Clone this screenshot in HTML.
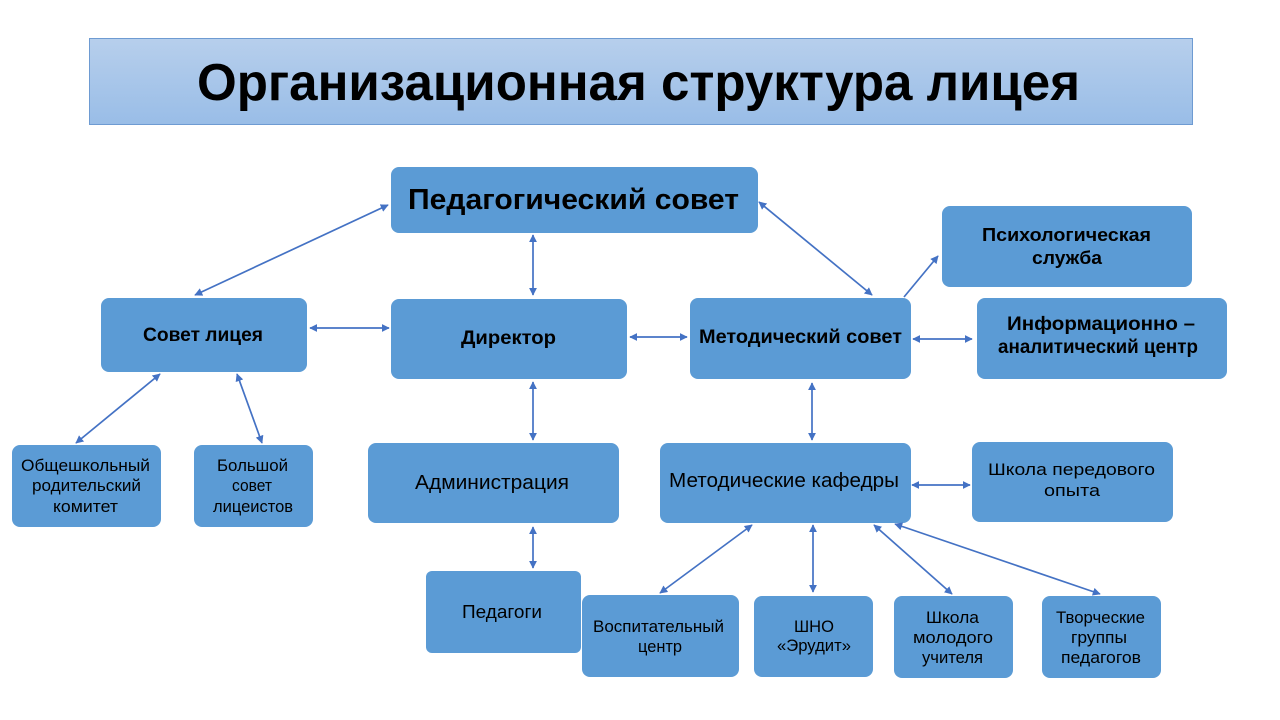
<!DOCTYPE html>
<html>
<head>
<meta charset="utf-8">
<style>
  html,body{margin:0;padding:0;background:#fff;}
  svg{display:block;}
  text{font-family:"Liberation Sans","Noto Sans CJK SC",sans-serif;fill:#000;}
  .b{font-weight:bold;}
</style>
</head>
<body>
<svg width="1280" height="720" viewBox="0 0 1280 720" xmlns="http://www.w3.org/2000/svg">
  <defs>
    <linearGradient id="tg" x1="0" y1="0" x2="0" y2="1">
      <stop offset="0" stop-color="#b7cfec"/>
      <stop offset="1" stop-color="#99bde7"/>
    </linearGradient>
    <marker id="ah" viewBox="0 0 10 10" refX="9" refY="5" markerWidth="8" markerHeight="8" markerUnits="userSpaceOnUse" orient="auto-start-reverse">
      <path d="M0,0 L10,5 L0,10 z" fill="#4472c4"/>
    </marker>
  </defs>

  <!-- Title -->
  <rect x="89.5" y="38.5" width="1103" height="86" fill="url(#tg)" stroke="#6e9bd2" stroke-width="1"/>
  <text class="b" x="197" y="100" font-size="52" textLength="883" lengthAdjust="spacingAndGlyphs">Организационная структура лицея</text>

  <!-- Boxes -->
  <g fill="#5b9bd5">
    <rect x="391" y="167" width="367" height="66" rx="8"/>
    <rect x="101" y="298" width="206" height="74" rx="8"/>
    <rect x="391" y="299" width="236" height="80" rx="8"/>
    <rect x="690" y="298" width="221" height="81" rx="8"/>
    <rect x="942" y="206" width="250" height="81" rx="8"/>
    <rect x="977" y="298" width="250" height="81" rx="8"/>
    <rect x="12" y="445" width="149" height="82" rx="8"/>
    <rect x="194" y="445" width="119" height="82" rx="8"/>
    <rect x="368" y="443" width="251" height="80" rx="8"/>
    <rect x="660" y="443" width="251" height="80" rx="8"/>
    <rect x="972" y="442" width="201" height="80" rx="8"/>
    <rect x="426" y="571" width="155" height="82" rx="6"/>
    <rect x="582" y="595" width="157" height="82" rx="8"/>
    <rect x="754" y="596" width="119" height="81" rx="8"/>
    <rect x="894" y="596" width="119" height="82" rx="8"/>
    <rect x="1042" y="596" width="119" height="82" rx="8"/>
  </g>

  <!-- Connectors -->
  <g stroke="#4472c4" stroke-width="1.7" fill="none">
    <line x1="388" y1="205" x2="195" y2="295" marker-start="url(#ah)" marker-end="url(#ah)"/>
    <line x1="533" y1="235" x2="533" y2="295" marker-start="url(#ah)" marker-end="url(#ah)"/>
    <line x1="759" y1="202" x2="872" y2="295" marker-start="url(#ah)" marker-end="url(#ah)"/>
    <line x1="310" y1="328" x2="389" y2="328" marker-start="url(#ah)" marker-end="url(#ah)"/>
    <line x1="630" y1="337" x2="687" y2="337" marker-start="url(#ah)" marker-end="url(#ah)"/>
    <line x1="904" y1="297" x2="938" y2="256" marker-end="url(#ah)"/>
    <line x1="913" y1="339" x2="972" y2="339" marker-start="url(#ah)" marker-end="url(#ah)"/>
    <line x1="812" y1="383" x2="812" y2="440" marker-start="url(#ah)" marker-end="url(#ah)"/>
    <line x1="533" y1="382" x2="533" y2="440" marker-start="url(#ah)" marker-end="url(#ah)"/>
    <line x1="160" y1="374" x2="76" y2="443" marker-start="url(#ah)" marker-end="url(#ah)"/>
    <line x1="237" y1="374" x2="262" y2="443" marker-start="url(#ah)" marker-end="url(#ah)"/>
    <line x1="533" y1="527" x2="533" y2="568" marker-start="url(#ah)" marker-end="url(#ah)"/>
    <line x1="752" y1="525" x2="660" y2="593" marker-start="url(#ah)" marker-end="url(#ah)"/>
    <line x1="813" y1="525" x2="813" y2="592" marker-start="url(#ah)" marker-end="url(#ah)"/>
    <line x1="874" y1="525" x2="952" y2="594" marker-start="url(#ah)" marker-end="url(#ah)"/>
    <line x1="895" y1="524" x2="1100" y2="594" marker-start="url(#ah)" marker-end="url(#ah)"/>
    <line x1="912" y1="485" x2="970" y2="485" marker-start="url(#ah)" marker-end="url(#ah)"/>
  </g>

  <!-- Labels -->
  <text class="b" x="408" y="209" font-size="29" textLength="331" lengthAdjust="spacingAndGlyphs">Педагогический совет</text>
  <text class="b" x="143" y="341" font-size="19" textLength="120" lengthAdjust="spacingAndGlyphs">Совет лицея</text>
  <text class="b" x="461" y="344" font-size="19" textLength="95" lengthAdjust="spacingAndGlyphs">Директор</text>
  <text class="b" x="699" y="343" font-size="19" textLength="203" lengthAdjust="spacingAndGlyphs">Методический совет</text>
  <text class="b" x="982" y="241" font-size="18" textLength="169" lengthAdjust="spacingAndGlyphs">Психологическая</text>
  <text class="b" x="1032" y="264" font-size="18" textLength="70" lengthAdjust="spacingAndGlyphs">служба</text>
  <text class="b" x="1007" y="330" font-size="19" textLength="188" lengthAdjust="spacingAndGlyphs">Информационно –</text>
  <text class="b" x="998" y="353" font-size="19" textLength="200" lengthAdjust="spacingAndGlyphs">аналитический центр</text>

  <text x="415" y="489" font-size="20" textLength="154" lengthAdjust="spacingAndGlyphs">Администрация</text>
  <text x="669" y="487" font-size="20" textLength="230" lengthAdjust="spacingAndGlyphs">Методические кафедры</text>
  <text x="988" y="475" font-size="17" textLength="167" lengthAdjust="spacingAndGlyphs">Школа передового</text>
  <text x="1044" y="496" font-size="17" textLength="56" lengthAdjust="spacingAndGlyphs">опыта</text>

  <text x="21" y="471" font-size="17" textLength="129" lengthAdjust="spacingAndGlyphs">Общешкольный</text>
  <text x="32" y="491" font-size="17" textLength="109" lengthAdjust="spacingAndGlyphs">родительский</text>
  <text x="53" y="512" font-size="17" textLength="65" lengthAdjust="spacingAndGlyphs">комитет</text>

  <text x="217" y="471" font-size="17" textLength="71" lengthAdjust="spacingAndGlyphs">Большой</text>
  <text x="232" y="491" font-size="17" textLength="40" lengthAdjust="spacingAndGlyphs">совет</text>
  <text x="213" y="512" font-size="17" textLength="80" lengthAdjust="spacingAndGlyphs">лицеистов</text>

  <text x="462" y="618" font-size="18" textLength="80" lengthAdjust="spacingAndGlyphs">Педагоги</text>

  <text x="593" y="632" font-size="17" textLength="131" lengthAdjust="spacingAndGlyphs">Воспитательный</text>
  <text x="638" y="652" font-size="17" textLength="44" lengthAdjust="spacingAndGlyphs">центр</text>

  <text x="794" y="632" font-size="17" textLength="40" lengthAdjust="spacingAndGlyphs">ШНО</text>
  <text x="777" y="651" font-size="17" textLength="74" lengthAdjust="spacingAndGlyphs">«Эрудит»</text>

  <text x="926" y="623" font-size="17" textLength="53" lengthAdjust="spacingAndGlyphs">Школа</text>
  <text x="913" y="643" font-size="17" textLength="80" lengthAdjust="spacingAndGlyphs">молодого</text>
  <text x="922" y="663" font-size="17" textLength="61" lengthAdjust="spacingAndGlyphs">учителя</text>

  <text x="1056" y="623" font-size="17" textLength="89" lengthAdjust="spacingAndGlyphs">Творческие</text>
  <text x="1071" y="643" font-size="17" textLength="56" lengthAdjust="spacingAndGlyphs">группы</text>
  <text x="1061" y="663" font-size="17" textLength="80" lengthAdjust="spacingAndGlyphs">педагогов</text>
</svg>
</body>
</html>
